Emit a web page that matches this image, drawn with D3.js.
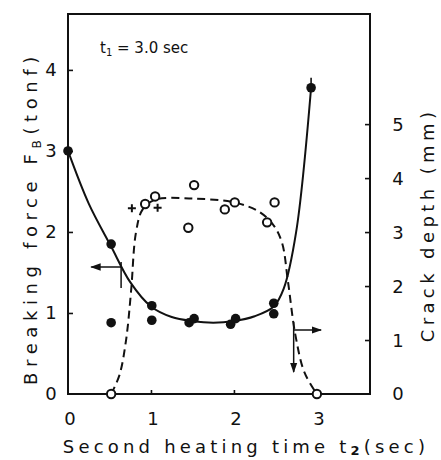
<!DOCTYPE html>
<html><head><meta charset="utf-8">
<script src="https://cdn.jsdelivr.net/npm/d3@7"></script>
<style>
html,body{margin:0;padding:0;background:#fff;}
svg{display:block;}
text{font-family:"DejaVu Sans",sans-serif;fill:#111;}
</style></head>
<body><div id="chart"></div>
<script>
// ---- data ----
const xTicks = [0, 1, 2, 3];
const leftTicks = [0, 1, 2, 3, 4];
const rightTicks = [0, 1, 2, 3, 4, 5];
// breaking force (filled dots): [t2, F_B tonf]
const forcePoints = [[0,3.0],[0.52,1.85],[0.52,0.88],[1.01,1.09],[1.01,0.91],[1.46,0.88],[1.52,0.93],[1.96,0.86],[2.02,0.93],[2.48,1.12],[2.48,0.99],[2.93,3.78]];
// fitted force curve
const forceCurve = [[0,3.0],[0.25,2.35],[0.52,1.82],[0.75,1.38],[1.0,1.08],[1.25,0.95],[1.5,0.9],[1.75,0.88],[2.0,0.9],[2.25,0.96],[2.48,1.08],[2.6,1.3],[2.75,2.0],[2.93,3.78]];
// crack depth (open circles): [t2, mm]
const crackPoints = [[0.52,0],[0.93,3.52],[1.05,3.66],[1.52,3.87],[1.45,3.08],[1.89,3.42],[2.01,3.55],[2.49,3.55],[2.40,3.18],[3.0,0]];
// "+" marks
const plusPoints = [[0.77,3.44],[1.08,3.45]];
// fitted crack curve
const crackCurve = [[0.52,0],[0.62,0.35],[0.7,1.0],[0.76,1.9],[0.82,3.0],[0.9,3.42],[1.05,3.6],[1.5,3.62],[2.0,3.55],[2.3,3.38],[2.48,3.12],[2.58,2.8],[2.65,2.1],[2.74,1.1],[2.85,0.4],[3.0,0]];

// ---- layout ----
const W = 441, H = 460;
const svg = d3.select("#chart").append("svg").attr("width", W).attr("height", H);
const x = d3.scaleLinear().domain([0, 3.64]).range([68, 370]);
const yL = d3.scaleLinear().domain([0, 4.69]).range([394, 14]);
const yR = d3.scaleLinear().domain([0, 7.04]).range([394, 14]);

// frame
svg.append("rect").attr("x", x(0)).attr("y", yL(4.69)).attr("width", x(3.64) - x(0)).attr("height", yL(0) - yL(4.69))
  .attr("fill", "none").attr("stroke", "#111").attr("stroke-width", 2);

// axes
const axL = svg.append("g").attr("transform", `translate(${x(0)},0)`)
  .call(d3.axisRight(yL).tickValues(leftTicks.slice(1)).tickSize(5).tickFormat(""));
const axR = svg.append("g").attr("transform", `translate(${x(3.64)},0)`)
  .call(d3.axisLeft(yR).tickValues(rightTicks.slice(1)).tickSize(5).tickFormat(""));
const axB = svg.append("g").attr("transform", `translate(0,${yL(0)})`)
  .call(d3.axisTop(x).tickValues(xTicks.slice(1)).tickSize(4).tickFormat(""));
[axL, axR, axB].forEach(g => { g.select(".domain").remove(); g.selectAll("line").attr("stroke", "#111").attr("stroke-width", 1.6); });

// tick labels
svg.append("g").selectAll("text").data(leftTicks).join("text")
  .attr("x", 51).attr("y", d => yL(d)).attr("dy", "0.36em").attr("text-anchor", "middle")
  .attr("font-size", 18).text(d => d);
svg.append("g").selectAll("text").data(rightTicks).join("text")
  .attr("x", 398).attr("y", d => yR(d)).attr("dy", "0.36em").attr("text-anchor", "middle")
  .attr("font-size", 18).text(d => d);
svg.append("g").selectAll("text").data(xTicks).join("text")
  .attr("x", d => x(d) + 2).attr("y", 419).attr("dy", "0.36em").attr("text-anchor", "middle")
  .attr("font-size", 18).text(d => d);

// curves
const line = d3.line().x(d => x(d[0])).curve(d3.curveCatmullRom.alpha(0.5));
svg.append("path").datum(forceCurve).attr("d", line.y(d => yL(d[1]))).attr("fill", "none")
  .attr("stroke", "#111").attr("stroke-width", 2);
svg.append("path").datum(crackCurve).attr("d", line.y(d => yR(d[1]))).attr("fill", "none")
  .attr("stroke", "#111").attr("stroke-width", 2).attr("stroke-dasharray", "8,5");

// tick above last force point
svg.append("line").attr("x1", x(2.93)).attr("x2", x(2.93)).attr("y1", yL(3.78)).attr("y2", yL(3.78) - 10)
  .attr("stroke", "#111").attr("stroke-width", 1.6);

// points
svg.append("g").selectAll("circle").data(forcePoints).join("circle")
  .attr("cx", d => x(d[0])).attr("cy", d => yL(d[1])).attr("r", 4.8).attr("fill", "#111");
svg.append("g").selectAll("circle").data(crackPoints).join("circle")
  .attr("cx", d => x(d[0])).attr("cy", d => yR(d[1])).attr("r", 4.2).attr("fill", "#fff")
  .attr("stroke", "#111").attr("stroke-width", 2);
svg.append("g").selectAll("path").data(plusPoints).join("path")
  .attr("d", d => `M${x(d[0]) - 4},${yR(d[1])}h8M${x(d[0])},${yR(d[1]) - 4}v8`)
  .attr("stroke", "#111").attr("stroke-width", 2);

// arrows
const defs = svg.append("defs");
defs.append("marker").attr("id", "ah").attr("viewBox", "0 0 10 10").attr("refX", 9).attr("refY", 5)
  .attr("markerWidth", 7).attr("markerHeight", 7).attr("orient", "auto-start-reverse")
  .append("path").attr("d", "M0,1.5L10,5L0,8.5z").attr("fill", "#111");
// left-pointing arrow (force axis)
svg.append("line").attr("x1", x(0.64)).attr("x2", x(0.28)).attr("y1", 267).attr("y2", 267)
  .attr("stroke", "#111").attr("stroke-width", 1.5).attr("marker-end", "url(#ah)");
svg.append("line").attr("x1", x(0.64)).attr("x2", x(0.64)).attr("y1", 262).attr("y2", 288)
  .attr("stroke", "#111").attr("stroke-width", 1.5);
// right-pointing arrow (crack axis)
svg.append("line").attr("x1", x(2.72)).attr("x2", x(3.05)).attr("y1", 330).attr("y2", 330)
  .attr("stroke", "#111").attr("stroke-width", 1.5).attr("marker-end", "url(#ah)");
svg.append("line").attr("x1", x(2.72)).attr("x2", x(2.72)).attr("y1", 322).attr("y2", 372)
  .attr("stroke", "#111").attr("stroke-width", 1.5).attr("marker-end", "url(#ah)");

// annotation
const ann = svg.append("text").attr("x", 100).attr("y", 53).attr("font-size", 15);
ann.append("tspan").text("t");
ann.append("tspan").attr("font-size", 10).attr("dy", 3).text("1");
ann.append("tspan").attr("dy", -3).text(" = 3.0 sec");

// axis titles
const tl = svg.append("text").attr("transform", "translate(37,218) rotate(-90)").attr("text-anchor", "middle")
  .attr("font-size", 18).attr("letter-spacing", 5.6);
tl.append("tspan").text("Breaking force F");
tl.append("tspan").attr("font-size", 12).attr("dy", 4).text("B");
tl.append("tspan").attr("dy", -4).text("(tonf)");

svg.append("text").attr("transform", "translate(434,225) rotate(-90)").attr("text-anchor", "middle")
  .attr("font-size", 18).attr("letter-spacing", 4.4).text("Crack depth  (mm)");

const tb = svg.append("text").attr("x", 246).attr("y", 453).attr("text-anchor", "middle")
  .attr("font-size", 18).attr("letter-spacing", 4.2);
tb.append("tspan").text("Second heating time  t");
tb.append("tspan").attr("font-size", 13).attr("font-weight", "bold").attr("dy", 2).text("2");
tb.append("tspan").attr("dy", -2).text("(sec)");
</script></body></html>
